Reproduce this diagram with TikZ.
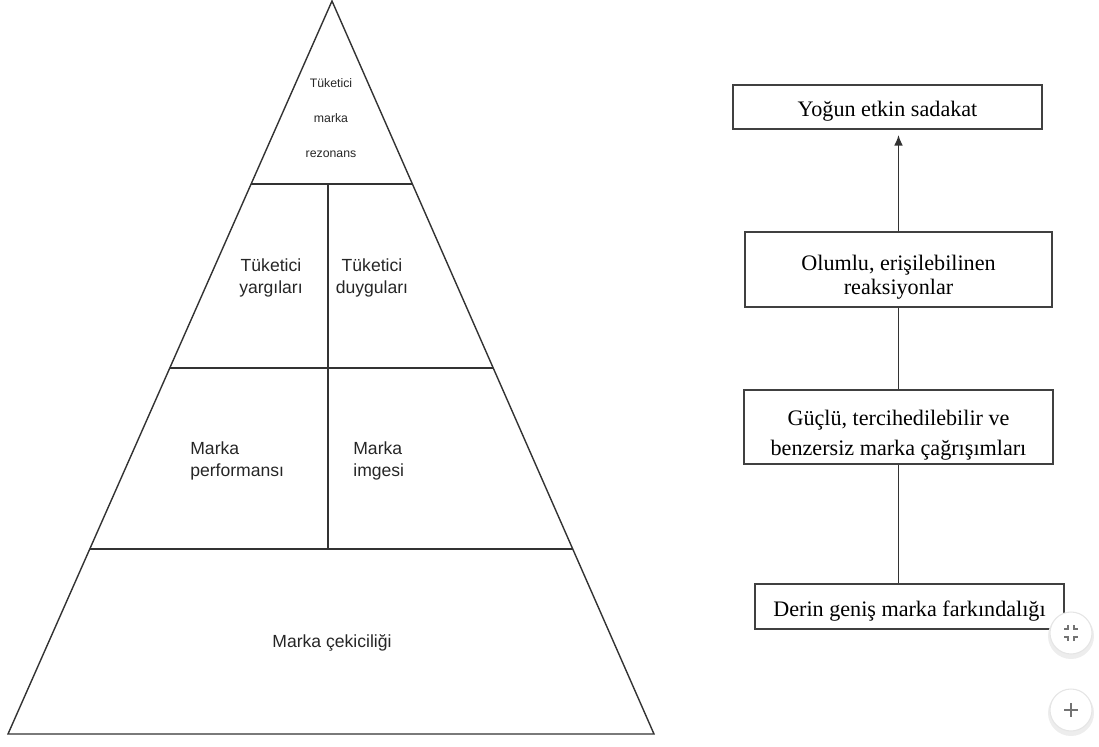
\documentclass[tikz,border=0pt]{standalone}
\usepackage{fontspec}
\setmainfont{Liberation Serif}
\setsansfont{Liberation Sans}
\usetikzlibrary{calc,arrows.meta}
\newcommand{\toppad}{\rule{0pt}{18pt}}
\begin{document}
\begin{tikzpicture}[x=0.02cm,y=-0.02cm,
  edge/.style={line width=0.8pt,draw=black!80},
  level/.style={font=\sffamily\fontsize{10}{13}\selectfont,text=black!85,align=center,inner sep=0pt},
  stagebox/.style={draw=black!75,line width=0.9pt,font=\fontsize{12.6}{13.6}\selectfont,align=center,inner sep=0pt,
    execute at begin node={\rule{0pt}{14pt}}},
  uibtn/.style={fill=white,draw=black!10,line width=0.6pt}]
  \useasboundingbox (0,0) rectangle (1099,747);
  % pyramid
  \coordinate (apex) at (332,1);
  \coordinate (bl) at (8,734);
  \coordinate (br) at (654,734);
  \draw[edge] (apex) -- (bl) -- (br) -- cycle;
  \draw[edge] ($(apex)!0.2497!(bl)$) -- ($(apex)!0.2497!(br)$);
  \draw[edge] ($(apex)!0.5007!(bl)$) -- ($(apex)!0.5007!(br)$);
  \draw[edge] ($(apex)!0.7476!(bl)$) -- ($(apex)!0.7476!(br)$);
  \draw[edge] (328,184) -- (328,549);
  \node[level,font=\sffamily\fontsize{7}{20}\selectfont] (reso) at (331,118) {Tüketici\\marka\\rezonans};
  \node[level] (judg) at (271,278) {Tüketici\\yargıları};
  \node[level] (feel) at (372,278) {Tüketici\\duyguları};
  \node[level,align=left,anchor=west] (perf) at (190,461) {Marka\\performansı};
  \node[level,align=left,anchor=west] (imag) at (353,461) {Marka\\imgesi};
  \node[level] (salience) at (332,643) {Marka çekiciliği};
  % steps on the right
  \node[stagebox,minimum width=6.18cm,minimum height=0.88cm] (loyal) at (887.5,107) {Yoğun etkin sadakat};
  \node[stagebox,minimum width=6.14cm,minimum height=1.5cm] (resp) at (898.5,269.5) {\toppad Olumlu, erişilebilinen\\reaksiyonlar};
  \node[stagebox,minimum width=6.18cm,minimum height=1.48cm,font=\fontsize{12.6}{17}\selectfont] (assoc) at (898.5,427) {\toppad Güçlü, tercihedilebilir ve\\benzersiz marka çağrışımları};
  \node[stagebox,minimum width=6.18cm,minimum height=0.9cm] (aware) at (909.5,606.5) {Derin geniş marka farkındalığı};
  \draw[edge] (assoc.south) -- (assoc.south |- aware.north);
  \draw[edge] (resp.south) -- (resp.south |- assoc.north);
  \draw[edge,-{Latex[length=6pt,width=5pt]},shorten >=3pt] (resp.north) -- (resp.north |- loyal.south);
  % viewer buttons
  \fill[black!7] (1071,636) circle (23);
  \draw[uibtn] (1071,633) circle (21);
  \draw[black!55,line width=0.6pt] (1064,629) -- (1068,629) -- (1068,625) (1074,625) -- (1074,629) -- (1078,629)
    (1064,637) -- (1068,637) -- (1068,641) (1074,641) -- (1074,637) -- (1078,637);
  \fill[black!7] (1071,713) circle (23);
  \draw[uibtn] (1071,710) circle (21);
  \draw[black!55,line width=0.7pt] (1064,710) -- (1078,710) (1071,703) -- (1071,717);
\end{tikzpicture}
\end{document}
